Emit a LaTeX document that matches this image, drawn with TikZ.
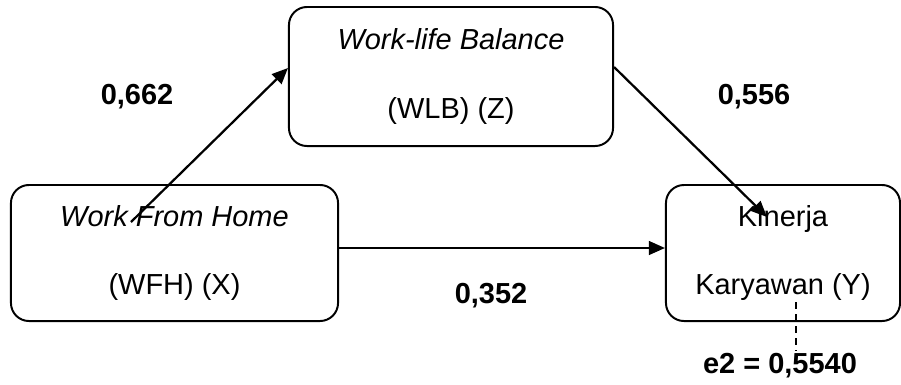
\documentclass[tikz,border=0pt]{standalone}
\usepackage{fontspec}
\setmainfont{Liberation Sans}
\usepackage{tikz}
\usetikzlibrary{calc, arrows.meta}
\tikzstyle{var} = [rectangle, rounded corners=0.45cm, line width=1.4pt, draw=black, align=center, inner sep=0pt, font=\fontsize{20.6pt}{49pt}\selectfont]
\tikzstyle{coef} = [inner sep=2pt, font=\fontsize{20.6pt}{24pt}\selectfont\bfseries]
\tikzstyle{arrow} = [line width=1.6pt, -{Triangle[length=0.4cm, width=0.34cm]}]
\tikzstyle{errline} = [line width=1.3pt, dash pattern=on 0.18cm off 0.12cm]

\begin{document}
\begin{tikzpicture}[x=0.025cm, y=-0.025cm]
	\useasboundingbox (0,0) rectangle (901,384);
	% variabel
	\node (wfh) [var, minimum width=8.175cm, minimum height=3.4cm] at (174.5,253) {\textit{Work From Home}\\(WFH) (X)};
	\node (wlb) [var, minimum width=8.1cm, minimum height=3.475cm] at (451,76.5) {\textit{Work-life Balance}\\(WLB) (Z)};
	\node (kin) [var, minimum width=5.85cm, minimum height=3.4cm] at (783,253) {Kinerja\\Karyawan (Y)};
	% koefisien
	\node (c1) [coef] at (137,97) {0,662};
	\node (c2) [coef] at (754,97) {0,556};
	\node (c3) [coef] at (491,296) {0,352};
	\node (e2) [coef] at (780,366) {e2 = 0,5540};
	% jalur
	\draw [arrow] ($(wfh.center)+(-43.5,-31)$) -- ($(wlb.west)+(0,-8.5)$);
	\draw [arrow] ($(wlb.east)+(0,-9.5)$) -- ($(kin.center)+(-16,-36)$);
	\draw [arrow] ($(wfh.east)+(0,-5)$) -- ($(kin.west)+(0,-5)$);
	\coordinate (err) at ($(kin.center)+(13,49)$);
	\draw [errline] (err) -- (err |- e2.north);
\end{tikzpicture}
\end{document}
